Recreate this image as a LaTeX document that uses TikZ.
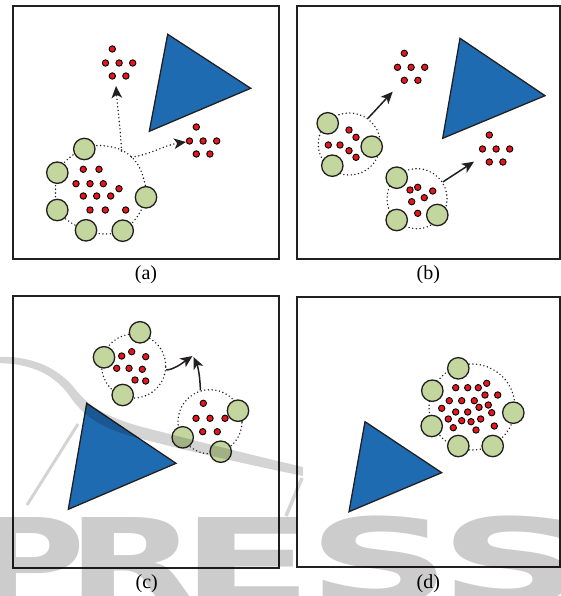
\documentclass[tikz,border=0pt]{standalone}
\usepackage{fontspec}
\usepackage{graphicx}
\setmainfont{Liberation Serif}
\newfontfamily\wmfont{DejaVu Sans}
\usetikzlibrary{arrows.meta}

\definecolor{ink}{RGB}{35,31,32}
\definecolor{triblue}{RGB}{31,107,177}
\definecolor{cellgreen}{RGB}{194,214,158}
\definecolor{dotred}{RGB}{232,22,28}

\tikzset{
  panel/.style={draw=ink, line width=2pt},
  obstacle/.style={draw=ink, line width=1.3pt, fill=triblue, line join=miter},
  cell/.style={circle, draw=ink, line width=1.3pt, fill=cellgreen, minimum size=21.4pt, inner sep=0pt},
  dot/.style={circle, draw=black, line width=0.9pt, fill=dotred, minimum size=6.4pt, inner sep=0pt},
  ring/.style={draw=ink, line width=1.6pt, line cap=round, dash pattern=on 0pt off 3.7pt},
  ringnode/.style={circle, ring, inner sep=0pt},
  tipstyle/.style={-{Stealth[length=12pt,width=10.5pt,inset=3.2pt]}},
  dotmove/.style={ring, tipstyle},
  move/.style={draw=ink, line width=1.5pt, tipstyle},
  caption/.style={font=\fontsize{20}{20}\selectfont, inner sep=0pt},
  wmletter/.style={font=\wmfont\bfseries\fontsize{118}{118}\selectfont, text=black, text opacity=0.2, anchor=base, inner sep=0pt},
  sextet/.pic={
    \node[dot] (-t) at (0,0) {};
    \node[dot] (-a) at (-6.8,14) {};
    \node[dot] (-b) at (6.8,14) {};
    \node[dot] (-c) at (20.4,14) {};
    \node[dot] (-d) at (0,27) {};
    \node[dot] (-e) at (13.6,27) {};
  }
}

\begin{document}
\begin{tikzpicture}[x=1pt,y=-1pt]
\useasboundingbox (0,0) rectangle (561,596);
\fill[white] (0,0) rectangle (561,596);

% ---------- panel frames ----------
\draw[panel] (13,6) rectangle (279,259);
\draw[panel] (297,6) rectangle (559.5,259);
\draw[panel] (13,296) rectangle (279,568);
\draw[panel] (297,297) rectangle (559.5,567);

% ---------- panel (a) ----------
\filldraw[obstacle] (167.7,34.3) -- (250.7,88.3) -- (149.3,131.3) -- cycle;
\draw[ring] plot[smooth cycle, tension=0.6] coordinates {(100,145.5) (121.5,150) (136.5,162.5) (144,180) (146,197.3) (137,217) (122.7,230.7) (104,234) (86,230) (70,222) (57.3,210) (55.5,191) (57.3,172.7) (69,158) (84.3,149)};
\foreach \x/\y [count=\i] in {83.3/169.3, 99/169.3, 76/183.7, 90/183.7, 103.3/183.7, 119/188.7, 83.3/196, 96.7/196, 110.7/196, 90/210, 105.3/210, 125.7/210}
  \node[dot] (aR\i) at (\x,\y) {};
\foreach \x/\y [count=\i] in {84.3/149, 57.3/172.7, 57.3/210, 86/230.3, 122.7/230.7, 146/197.3}
  \node[cell] (aG\i) at (\x,\y) {};
\pic (aUp) at (112.3,49) {sextet};
\pic (aSide) at (196.3,127) {sextet};
\coordinate (aUpFrom) at (121.5,151);
\coordinate (aUpTo) at (116,86);
\coordinate (aSideFrom) at (131.5,157);
\coordinate (aSideTo) at (186,142);
\draw[dotmove] (aUpFrom) .. controls (120.5,128) and (117.5,108) .. (aUpTo);
\draw[dotmove] (aSideFrom) .. controls (148,155.5) and (165,145) .. (aSideTo);
\node[caption] (capA) at (146,275) {(a)};

% ---------- panel (b) ----------
\filldraw[obstacle] (460,38.3) -- (545,95.7) -- (442.7,138.3) -- cycle;
\node[ringnode, minimum size=62pt] (bRingL) at (349.3,144) {};
\node[ringnode, minimum size=60pt] (bRingR) at (417,198.7) {};
\foreach \x/\y [count=\i] in {349/130, 356/137.3, 328.3/145, 340/145, 349/150.7, 356/157.3}
  \node[dot] (bL\i) at (\x,\y) {};
\foreach \x/\y [count=\i] in {410/190, 417.7/187.3, 432.7/191, 424.3/197.7, 411.7/201.7, 417.7/213.3}
  \node[dot] (bR\i) at (\x,\y) {};
\foreach \x/\y [count=\i] in {327.7/123.3, 371.7/146.7, 332.3/165.7}
  \node[cell] (bLG\i) at (\x,\y) {};
\foreach \x/\y [count=\i] in {396.7/177.7, 396.7/220, 437.3/215}
  \node[cell] (bRG\i) at (\x,\y) {};
\pic (bUp) at (404.3,53.3) {sextet};
\pic (bSide) at (489.3,135) {sextet};
\coordinate (bUpTo) at (392.7,91.7);
\coordinate (bSideTo) at (474,161.7);
\draw[move] (bRingL.54) -- (bUpTo);
\draw[move] (bRingR.33) -- (bSideTo);
\node[caption] (capB) at (428.3,275) {(b)};

% ---------- panel (c) ----------
\filldraw[obstacle] (86.7,403.3) -- (176,463.3) -- (68.3,509.3) -- cycle;
\node[ringnode, minimum size=64pt] (cRingL) at (133.7,366) {};
\node[ringnode, minimum size=64pt] (cRingR) at (210,421.7) {};
\foreach \x/\y [count=\i] in {131.7/351.7, 121.7/356, 145.7/356.7, 116.7/368.3, 129/368.3, 142.3/369.3, 135/380, 145.7/381}
  \node[dot] (cL\i) at (\x,\y) {};
\foreach \x/\y [count=\i] in {203.3/403.3, 196/418.3, 210/418.3, 225/418.3, 202.7/431.7, 217.3/431.7}
  \node[dot] (cR\i) at (\x,\y) {};
\foreach \x/\y [count=\i] in {140/332.3, 104/357.3, 122.7/395}
  \node[cell] (cLG\i) at (\x,\y) {};
\foreach \x/\y [count=\i] in {238/410.7, 182.7/437.3, 220.7/451.7}
  \node[cell] (cRG\i) at (\x,\y) {};
\coordinate (cMeetA) at (192.5,356);
\coordinate (cMeetB) at (193.5,357);
\draw[move] (cRingL.-7) .. controls (174,369.5) and (181,364) .. (cMeetA);
\draw[move] (cRingR.107.5) .. controls (200,378) and (198.5,368) .. (cMeetB);
\node[caption] (capC) at (146.7,583.3) {(c)};

% ---------- panel (d) ----------
\filldraw[obstacle] (365,421.7) -- (441.7,472.7) -- (349,511.7) -- cycle;
\node[ringnode, minimum size=86pt] (dRing) at (472,407) {};
\foreach \x/\y [count=\i] in {455.7/387.7, 467.7/387.7, 478.3/387.7, 486.7/383.3, 485/395, 497.7/395, 449.3/400.7, 461.7/400.7, 474.3/400.7, 488.3/405, 479/407.3, 441.7/408.3, 455.7/412, 467.7/412, 491.7/412.7, 448.3/419, 461.7/420.7, 471/421.7, 480.7/419, 453.3/427.7, 476/430, 494.3/426}
  \node[dot] (dR\i) at (\x,\y) {};
\foreach \x/\y [count=\i] in {458.3/368.3, 432.3/390.7, 513.3/412.7, 431.7/426, 458.3/446, 492.7/446}
  \node[cell] (dG\i) at (\x,\y) {};
\node[caption] (capD) at (428.3,583.3) {(d)};

% ---------- publisher watermark ----------
\begin{scope}[fill=black, fill opacity=0.17, draw=black, draw opacity=0.17]
  \fill (-5,357) .. controls (30,355) and (58,367) .. (76,390)
        .. controls (90,408) and (110,419) .. (150,429)
        .. controls (200,442) and (260,457) .. (303,467)
        -- (303,476)
        .. controls (260,467) and (200,454) .. (150,441)
        .. controls (106,431) and (86,419) .. (71,398)
        .. controls (57,377) and (35,363) .. (-5,363) -- cycle;
  \draw[line width=3pt] (27,505) -- (78,424);
  \draw[line width=3.5pt] (302,478) -- (286,516);
\end{scope}
\node[wmletter] (wmP) at (30,603) {\scalebox{1.3}[1]{P}};
\node[wmletter] (wmR) at (132,603) {\scalebox{1.45}[1]{R}};
\node[wmletter] (wmE) at (247,603) {\scalebox{1.65}[1]{E}};
\node[wmletter] (wmS) at (380,603) {\scalebox{1.7}[1]{S}};
\node[wmletter] (wmT) at (512,603) {\scalebox{1.7}[1]{S}};
\end{tikzpicture}
\end{document}
